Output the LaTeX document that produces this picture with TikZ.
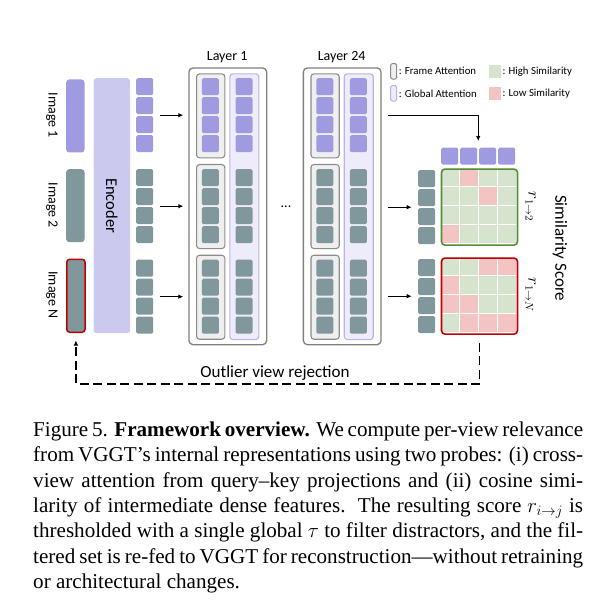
\documentclass[tikz,border=0pt]{standalone}
\usepackage{fontspec}
\setmainfont{Liberation Serif}
\newfontfamily\diagfont{Carlito}
\usetikzlibrary{arrows.meta,calc}

\definecolor{tokP}{RGB}{160,155,224}
\definecolor{tokT}{RGB}{128,151,155}
\definecolor{encF}{RGB}{203,201,238}
\definecolor{frmF}{RGB}{239,239,239}
\definecolor{frmD}{RGB}{140,140,140}
\definecolor{gloF}{RGB}{238,236,251}
\definecolor{gloD}{RGB}{184,180,234}
\definecolor{layD}{RGB}{128,128,128}
\definecolor{simG}{RGB}{214,227,207}
\definecolor{simR}{RGB}{242,196,196}
\definecolor{bordG}{RGB}{84,142,52}
\definecolor{bordR}{RGB}{192,0,0}

\newcommand\mytokcol[4]{%
  \node[grp, anchor=north west] (#1) at (#2,#3) {};
  \foreach \k in {0,...,3}{\node[tokbox, fill=#4, anchor=north west] (#1-\k) at (#2,#3+19*\k) {};}
}
\newcommand\mytokrow[4]{%
  \node[grprow, anchor=north west] (#1) at (#2,#3) {};
  \foreach \k in {0,...,3}{\node[tokbox, fill=#4, anchor=north west] (#1-\k) at (#2+19*\k,#3) {};}
}

\begin{document}
\begin{tikzpicture}[x=1pt,y=-1pt,
  tokbox/.style={rectangle, inner sep=0, minimum width=17pt, minimum height=17pt, rounded corners=1.5pt, draw=none},
  grp/.style={rectangle, inner sep=0, minimum width=17pt, minimum height=74pt},
  grprow/.style={rectangle, inner sep=0, minimum width=74pt, minimum height=17pt},
  box/.style={rectangle, inner sep=0, anchor=north west},
  imgbox/.style={box, rounded corners=3pt, minimum width=18.3pt, minimum height=73pt},
  laybox/.style={box, draw=layD, line width=1.3pt, rounded corners=4pt, minimum width=77.7pt, minimum height=276.7pt},
  frmbox/.style={box, fill=frmF, draw=frmD, line width=1.1pt, rounded corners=3pt, minimum width=28.3pt, minimum height=84pt},
  globox/.style={box, fill=gloF, draw=gloD, line width=1.1pt, rounded corners=3pt, minimum width=29pt, minimum height=265.7pt},
  matbox/.style={box, line width=1.6pt, rounded corners=3.5pt, minimum width=76pt, minimum height=76pt},
  lbl/.style={font=\diagfont\fontsize{#1}{#1}\selectfont, inner sep=0},
  arr/.style={line width=1.3pt, -{Latex[length=5pt,width=4.6pt]}},
  dashloop/.style={line width=1.4pt, dash pattern=on 9pt off 4.5pt, -{Latex[length=5pt,width=4.6pt]}},
  capline/.style={font=\fontsize{21.1}{25.3}\selectfont, inner sep=0, anchor=base west},
]
\useasboundingbox (0,0) rectangle (601,609);

% ---------- input images ----------
\node[imgbox, fill=tokP] (I1) at (66,79.3) {};
\node[imgbox, fill=tokT] (I2) at (66,169) {};
\node[imgbox, fill=tokT, draw=bordR, line width=1.5pt] (IN) at (66,258.5) {};
\node[lbl=14, rotate=-90] (labI1) at (52,115.5) {Image 1};
\node[lbl=14, rotate=-90] (labI2) at (52,205.5) {Image 2};
\node[lbl=14, rotate=-90] (labIN) at (52,295) {Image N};

% ---------- encoder ----------
\node[box, fill=encF, rounded corners=3pt, minimum width=36.7pt, minimum height=255pt] (E) at (93.3,78) {};
\node[lbl=16.5, rotate=-90] (labE) at (E.center) {Encoder};
\mytokcol{E1}{136}{78}{tokP}
\mytokcol{E2}{136}{169}{tokT}
\mytokcol{E3}{136}{259.5}{tokT}

% ---------- layers ----------
\foreach \dx/\nm/\txt in {0/L1/Layer 1, 114.4/L24/Layer 24}{
  \node[laybox] (\nm) at (188.3+\dx,67.3) {};
  \node[lbl=14] (\nm-title) at (227.2+\dx,56.7) {\txt};
  \node[frmbox] (\nm-fa) at (196+\dx,73.3) {};
  \node[frmbox] (\nm-fb) at (196+\dx,164) {};
  \node[frmbox] (\nm-fc) at (196+\dx,254.7) {};
  \node[globox] (\nm-g) at (229.3+\dx,73.3) {};
  \mytokcol{\nm-a1}{201.7+\dx}{78}{tokP}
  \mytokcol{\nm-a2}{201.7+\dx}{169}{tokT}
  \mytokcol{\nm-a3}{201.7+\dx}{259.5}{tokT}
  \mytokcol{\nm-b1}{235.3+\dx}{78}{tokP}
  \mytokcol{\nm-b2}{235.3+\dx}{169}{tokT}
  \mytokcol{\nm-b3}{235.3+\dx}{259.5}{tokT}
}
\node[lbl=14, anchor=base] (dots) at (286,207.5) {...};

\draw[arr] ([xshift=6.3pt]E1.east) -- ([xshift=-5pt]L1.west |- E1.east);
\draw[arr] ([xshift=6.3pt]E2.east) -- ([xshift=-5pt]L1.west |- E2.east);
\draw[arr] ([xshift=6.3pt]E3.east) -- ([xshift=-5pt]L1.west |- E3.east);

% ---------- legend ----------
\node[rectangle, inner sep=0, fill=frmF, draw=frmD, line width=1pt, rounded corners=1.5pt, minimum width=6pt, minimum height=15.5pt] (lgF) at (393.7,71.3) {};
\node[lbl=10.8, anchor=west] (lgFt) at (398.6,71.3) {: Frame Attention};
\node[rectangle, inner sep=0, fill=gloF, draw=gloD, line width=1pt, rounded corners=1.5pt, minimum width=6pt, minimum height=15.5pt] (lgG) at (393.7,93.3) {};
\node[lbl=10.8, anchor=west] (lgGt) at (398.6,93.3) {: Global Attention};
\node[rectangle, inner sep=0, fill=simG, minimum width=11.5pt, minimum height=13pt] (lgH) at (495,71.3) {};
\node[lbl=10.8, anchor=west] (lgHt) at (502.3,71.3) {: High Similarity};
\node[rectangle, inner sep=0, fill=simR, minimum width=11.5pt, minimum height=13pt] (lgL) at (495,93.3) {};
\node[lbl=10.8, anchor=west] (lgLt) at (502.3,93.3) {: Low Similarity};

% ---------- similarity ----------
\mytokrow{Q}{441}{147.5}{tokP}
\mytokcol{R2}{418}{170}{tokT}
\mytokcol{R3}{418}{259}{tokT}

\begin{scope}
  \clip[rounded corners=3.5pt] (440.7,168.3) rectangle ++(76,76);
  \foreach \r/\row in {0/{G,R,G,G},1/{G,G,R,G},2/{G,G,G,G},3/{R,G,G,G}}{
    \foreach [count=\ci from 0] \v in \row{
      \fill[sim\v] (440.7+19*\ci,168.3+19*\r) rectangle ++(18,18);
    }
  }
\end{scope}
\node[matbox, draw=bordG] (M1) at (440.7,168.3) {};

\begin{scope}
  \clip[rounded corners=3.5pt] (440.7,257.3) rectangle ++(76,76);
  \foreach \r/\row in {0/{G,G,R,R},1/{R,G,G,G},2/{R,R,G,G},3/{G,R,R,R}}{
    \foreach [count=\ci from 0] \v in \row{
      \fill[sim\v] (440.7+19*\ci,257.3+19*\r) rectangle ++(18,18);
    }
  }
\end{scope}
\node[matbox, draw=bordR] (M2) at (440.7,257.3) {};

\node[rotate=-90, inner sep=0, font=\fontsize{16}{16}\selectfont] (r12) at (530.7,206.7) {$r_{1\to 2}$};
\node[rotate=-90, inner sep=0, font=\fontsize{16}{16}\selectfont] (r1N) at (530.7,295) {$r_{1\to N}$};
\node[lbl=17, rotate=-90] (simS) at (560,248.3) {Similarity Score};

\draw[arr] ([xshift=6.7pt]L24.east |- E1.east) -| ([yshift=6.5pt]Q.north);
\draw[arr] ([xshift=6.7pt]L24.east |- R2.west) -- ([xshift=-6.3pt]R2.west);
\draw[arr] ([xshift=6.7pt]L24.east |- R3.west) -- ([xshift=-6.3pt]R3.west);

% ---------- feedback loop ----------
\coordinate (loopbot) at (0,384);
\draw[dashloop] ([yshift=-8pt]M2.south) -- (M2.south |- loopbot) -| ([yshift=-7.5pt]IN.south);
\node[lbl=17] (outl) at (275,372.7) {Outlier view rejection};

% ---------- caption ----------
\node[capline] (cap1) at (33,436.5) {\hbox to 550pt{Figure 5. \textbf{Framework overview.} We compute per-view relevance}};
\node[capline] (cap2) at (33,461.8) {\hbox to 550pt{from VGGT’s internal representations using two probes: (i) cross-}};
\node[capline] (cap3) at (33,487.1) {\hbox to 550pt{view attention from query–key projections and (ii) cosine simi-}};
\node[capline] (cap4) at (33,512.4) {\hbox to 550pt{larity of intermediate dense features.\ \ The resulting score $r_{i\to j}$ is}};
\node[capline] (cap5) at (33,537.7) {\hbox to 550pt{thresholded with a single global $\tau$ to filter distractors, and the fil-}};
\node[capline] (cap6) at (33,563.0) {\hbox to 550pt{tered set is re-fed to VGGT for reconstruction—without retraining}};
\node[capline] (cap7) at (33,588.3) {or architectural changes.};
\end{tikzpicture}
\end{document}
